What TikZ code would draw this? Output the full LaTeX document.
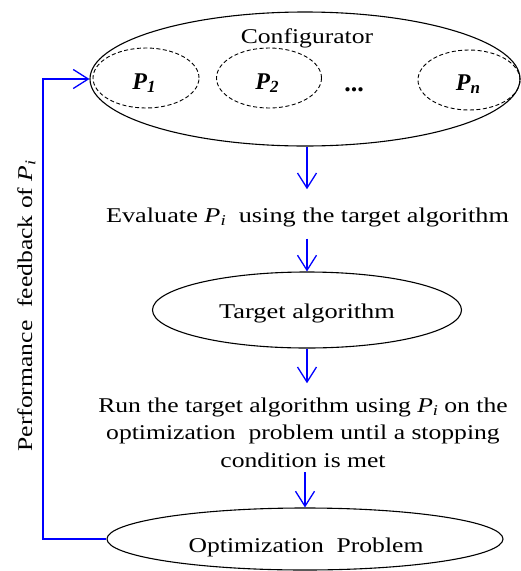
\documentclass[tikz,border=0pt]{standalone}
\usepackage{fontspec}
\setmainfont{Liberation Serif}
\usetikzlibrary{arrows.meta,shapes.geometric}

% italic P with a lowered subscript
\newcommand{\Psub}[1]{\textit{P}\raisebox{-0.35ex}{\fontsize{15}{15}\selectfont\textit{#1}}}
\newcommand{\Pbold}[1]{\textbf{\textit{P}\raisebox{-0.3ex}{\fontsize{17}{17}\selectfont\textit{#1}}}}

\begin{document}
\begin{tikzpicture}[x=1pt,y=-1pt,
  lbl/.style={inner sep=0pt, anchor=base, xscale=1.22,
              font=\fontsize{21}{27.5}\selectfont, align=center},
  plbl/.style={inner sep=0pt, anchor=base, font=\fontsize{24}{28}\selectfont},
  oval/.style={ellipse, draw=black, line width=1.1pt, inner sep=0pt},
  param/.style={ellipse, draw=black, line width=0.9pt, dash pattern=on 4pt off 2.5pt, inner sep=0pt},
  flow/.style={draw={rgb,255:red,0;green,0;blue,255}, line width=1.3pt,
               -{Straight Barb[length=15pt,width=19pt,line width=1.3pt]}}
]
\useasboundingbox (0,0) rectangle (521,571);

% configurator with its parameter sets
\node[oval, minimum width=430pt, minimum height=134pt] (cfg) at (305,79) {};
\node[lbl] (cfgt) at (307,43) {Configurator};
\node[param, minimum width=106pt, minimum height=60pt] (p1) at (146,78) {};
\node[param, minimum width=105pt, minimum height=60pt] (p2) at (269,78) {};
\node[param, minimum width=102pt, minimum height=60pt] (pn) at (469,80) {};
\node[plbl] (p1t) at (144,89) {\Pbold{1}};
\node[plbl] (p2t) at (267,89) {\Pbold{2}};
\node[plbl, font=\fontsize{26}{28}\selectfont] (dots) at (354,91) {\textbf{...}};
\node[plbl] (pnt) at (468,90) {\Pbold{n}};

% evaluation step
\node[lbl, xscale=1.025] (ev) at (307.5,222) {Evaluate \Psub{i}\ \ using the target algorithm};

% target algorithm
\node[oval, minimum width=309pt, minimum height=76pt] (tgt) at (307,310) {};
\node[lbl, xscale=1.03] (tgtt) at (307,318) {Target algorithm};

% run step (anchored at the baseline of its last line)
\node[lbl] (run) at (303,467) {Run the target algorithm using \Psub{i} on the\\
  optimization\ \ problem until a stopping\\ condition is met};

% optimization problem
\node[oval, minimum width=396pt, minimum height=62pt] (opt) at (305,539) {};
\node[lbl] (optt) at (306,552) {Optimization\ \ Problem};

% feedback label, stretched along its own direction
\node[rotate=90, lbl] (fbt) at (32,306) {Performance\ \ feedback of \Psub{i}};

% connectors
\coordinate (fb) at (43,300);
\draw[flow, shorten >=18pt] (cfg.south -| tgt.north) -- (ev.north -| tgt.north);
\draw[flow, shorten <=12pt] (ev.south -| tgt.north) -- (tgt.north);
\draw[flow, shorten >=14pt] (tgt.south) -- (run.north -| tgt.south);
\draw[flow, shorten <=5pt] (run.south -| opt.north) -- (opt.north);
\draw[flow] (opt.west) -| (fb) |- (cfg.west);
\end{tikzpicture}
\end{document}
